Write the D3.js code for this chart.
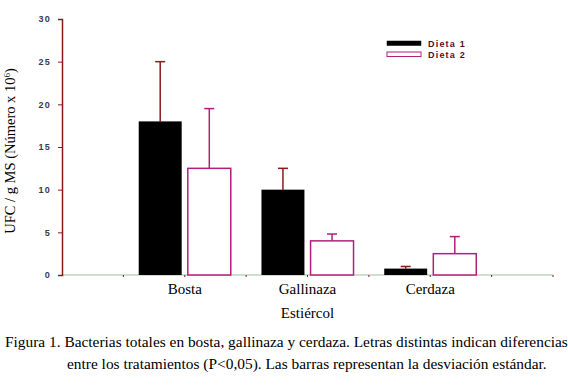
<!DOCTYPE html>
<html>
<head>
<meta charset="utf-8">
<script src="https://cdn.jsdelivr.net/npm/d3@7"></script>
<style>
  body { margin: 0; background: #fff; }
  svg { display: block; }
</style>
</head>
<body>
<div id="chart"></div>
<script>
// values
const categories = ["Bosta", "Gallinaza", "Cerdaza"];
const dieta1 = [18, 10, 0.75];
const dieta1Sd = [7, 2.5, 0.25];
const dieta2 = [12.5, 4, 2.5];
const dieta2Sd = [7, 0.8, 2];
const yTicks = [0, 5, 10, 15, 20, 25, 30];
const legendLabels = ["Dieta 1", "Dieta 2"];

const width = 568, height = 388;
const serif = "'Times New Roman', 'Liberation Serif', serif";
const sans = "Arial, 'Liberation Sans', sans-serif";

const svg = d3.select("#chart").append("svg")
    .attr("width", width)
    .attr("height", height);

// x in "category units": categories sit at 1, 2, 3
const x = d3.scaleLinear().domain([0, 4]).range([62, 553]);
const y = d3.scaleLinear().domain([0, 30]).range([275, 19]);

const axisRed = "#8b1a1a";
const outline2 = "#b0207a";

// x axis line
svg.append("line")
    .attr("x1", x(0)).attr("x2", x(4))
    .attr("y1", y(0)).attr("y2", y(0))
    .attr("stroke", "#9cc49c").attr("stroke-width", 1.2);

// small ticks on x axis every half unit
svg.selectAll(".xtick")
  .data(d3.range(0.5, 4.01, 0.5))
  .enter().append("line")
    .attr("x1", d => x(d)).attr("x2", d => x(d))
    .attr("y1", y(0)).attr("y2", y(0) + 2)
    .attr("stroke", axisRed);

// bars
const barW = 0.35, gap = 0.025;
const bars = svg.append("g");
categories.forEach(function(c, i) {
  var cx = i + 1;
  // error bars first, bars drawn on top
  [[dieta1, dieta1Sd, cx - gap - barW / 2, axisRed],
   [dieta2, dieta2Sd, cx + gap + barW / 2, outline2]].forEach(function(s) {
    var ex = x(s[2]);
    bars.append("line")
        .attr("x1", ex).attr("x2", ex)
        .attr("y1", y(s[0][i])).attr("y2", y(s[0][i] + s[1][i]))
        .attr("stroke", s[3]).attr("stroke-width", 1.5);
    bars.append("line")
        .attr("x1", ex - 5).attr("x2", ex + 5)
        .attr("y1", y(s[0][i] + s[1][i])).attr("y2", y(s[0][i] + s[1][i]))
        .attr("stroke", s[3]).attr("stroke-width", 1.5);
  });

  bars.append("rect")
      .attr("x", x(cx - gap - barW))
      .attr("y", y(dieta1[i]))
      .attr("width", x(barW) - x(0))
      .attr("height", y(0) - y(dieta1[i]))
      .attr("fill", "#000");

  bars.append("rect")
      .attr("x", x(cx + gap))
      .attr("y", y(dieta2[i]))
      .attr("width", x(barW) - x(0))
      .attr("height", y(0) - y(dieta2[i]))
      .attr("fill", "#fff")
      .attr("stroke", outline2)
      .attr("stroke-width", 1.5);
});

// y axis
const yAxis = d3.axisLeft(y).tickValues(yTicks).tickSize(4).tickPadding(7);
const gy = svg.append("g")
    .attr("transform", "translate(" + x(0) + ",0)")
    .call(yAxis);
gy.select(".domain").attr("stroke", axisRed).attr("stroke-width", 1.5);
gy.selectAll(".tick line").attr("stroke", axisRed);
gy.selectAll(".tick text")
    .attr("font-family", sans)
    .attr("font-weight", "bold")
    .attr("font-size", 9)
    .attr("letter-spacing", 1.3)
    .attr("fill", "#3a3a4a");

// category labels
svg.selectAll(".cat")
  .data(categories)
  .enter().append("text")
    .attr("x", (d, i) => x(i + 1))
    .attr("y", 294)
    .attr("text-anchor", "middle")
    .attr("font-family", serif)
    .attr("font-size", 15)
    .text(d => d);

svg.append("text")
    .attr("x", x(2))
    .attr("y", 318)
    .attr("text-anchor", "middle")
    .attr("font-family", serif)
    .attr("font-size", 15)
    .text("Estiércol");

// y label
const yl = svg.append("text")
    .attr("transform", "translate(15,151) rotate(-90)")
    .attr("text-anchor", "middle")
    .attr("font-family", serif)
    .attr("font-size", 14.5);
yl.append("tspan").text("UFC / g MS (Número x 10");
yl.append("tspan").attr("font-size", 9).attr("dy", -5).text("6");
yl.append("tspan").attr("dy", 5).text(")");

// legend
const legend = svg.append("g");
legendLabels.forEach(function(l, i) {
  var ly = 41 + i * 11;
  legend.append("rect")
      .attr("x", 387).attr("y", ly)
      .attr("width", 34).attr("height", 4.5)
      .attr("fill", i === 0 ? "#000" : "#fff")
      .attr("stroke", i === 0 ? "#000" : outline2)
      .attr("stroke-width", i === 0 ? 0.5 : 1);
  legend.append("text")
      .attr("x", 428).attr("y", ly + 5.5)
      .attr("font-family", sans)
      .attr("font-weight", "bold")
      .attr("font-size", 9)
      .attr("letter-spacing", 1.2)
      .attr("fill", "#5a0a2a")
      .text(l);
});

// caption
const cap = svg.append("g")
    .attr("font-family", serif)
    .attr("font-size", 15.4);
cap.append("text").attr("x", 5).attr("y", 347)
    .text("Figura 1. Bacterias totales en bosta, gallinaza y cerdaza. Letras distintas indican diferencias");
cap.append("text").attr("x", 67).attr("y", 369)
    .text("entre los tratamientos (P<0,05). Las barras representan la desviación estándar.");
</script>
</body>
</html>
